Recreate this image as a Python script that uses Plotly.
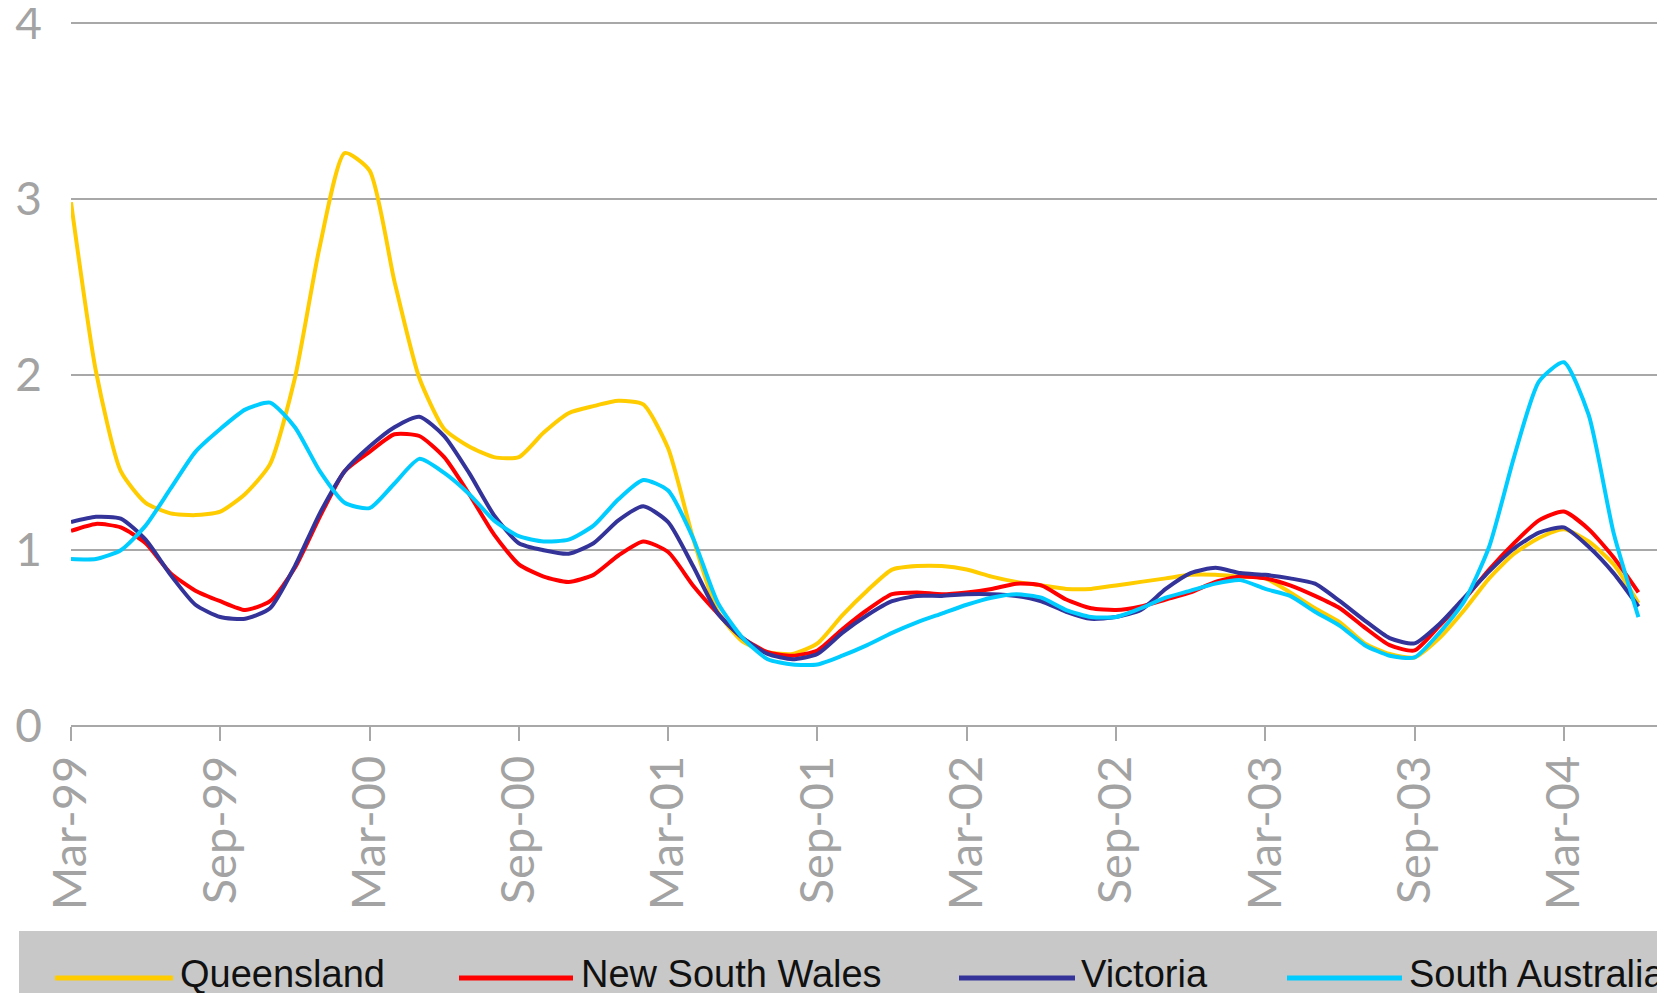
import pandas as pd
import plotly.graph_objects as go

months = list(pd.date_range("1999-03-01", periods=64, freq="MS").strftime("%b-%y"))
tick_labels = ["Mar-99", "Sep-99", "Mar-00", "Sep-00", "Mar-01", "Sep-01",
               "Mar-02", "Sep-02", "Mar-03", "Sep-03", "Mar-04"]
series_names = ["Queensland", "New South Wales", "Victoria", "South Australia"]
series_colors = ["#FFCC00", "#FF0000", "#333399", "#00CCFF"]

queensland = [2.98, 2.02, 1.45, 1.27, 1.21, 1.20, 1.22, 1.32, 1.49, 1.98,
              2.73, 3.26, 3.16, 2.53, 1.98, 1.69, 1.59, 1.53, 1.53, 1.67,
              1.78, 1.82, 1.85, 1.83, 1.58, 1.07, 0.65, 0.48, 0.42, 0.41,
              0.47, 0.63, 0.77, 0.89, 0.91, 0.91, 0.89, 0.85, 0.82, 0.80,
              0.78, 0.78, 0.80, 0.82, 0.84, 0.86, 0.86, 0.85, 0.84, 0.76,
              0.67, 0.59, 0.47, 0.41, 0.39, 0.50, 0.66, 0.84, 0.98, 1.07,
              1.12, 1.05, 0.92, 0.70]
nsw = [1.11, 1.15, 1.13, 1.04, 0.87, 0.77, 0.71, 0.66, 0.71, 0.90,
       1.19, 1.45, 1.56, 1.66, 1.65, 1.53, 1.32, 1.09, 0.92, 0.85,
       0.82, 0.86, 0.97, 1.05, 0.99, 0.80, 0.64, 0.50, 0.42, 0.40,
       0.43, 0.55, 0.66, 0.75, 0.76, 0.75, 0.76, 0.78, 0.81, 0.80,
       0.72, 0.67, 0.66, 0.68, 0.72, 0.76, 0.82, 0.85, 0.84, 0.80,
       0.74, 0.67, 0.56, 0.46, 0.43, 0.57, 0.72, 0.89, 1.04, 1.17,
       1.22, 1.12, 0.96, 0.76]
victoria = [1.16, 1.19, 1.18, 1.06, 0.86, 0.69, 0.62, 0.61, 0.67, 0.91,
            1.21, 1.45, 1.59, 1.70, 1.76, 1.65, 1.44, 1.20, 1.04, 1.00,
            0.98, 1.04, 1.17, 1.25, 1.16, 0.91, 0.64, 0.50, 0.41, 0.38,
            0.41, 0.53, 0.63, 0.71, 0.74, 0.74, 0.75, 0.75, 0.74, 0.71,
            0.65, 0.61, 0.62, 0.66, 0.78, 0.87, 0.90, 0.87, 0.86, 0.84,
            0.81, 0.71, 0.60, 0.50, 0.47, 0.58, 0.73, 0.88, 1.01, 1.10,
            1.13, 1.02, 0.87, 0.68]
south_australia = [0.95, 0.95, 1.00, 1.14, 1.35, 1.56, 1.69, 1.80, 1.84, 1.70,
                   1.45, 1.27, 1.24, 1.38, 1.52, 1.44, 1.32, 1.17, 1.08, 1.05,
                   1.06, 1.14, 1.29, 1.40, 1.34, 1.07, 0.70, 0.50, 0.38, 0.35,
                   0.35, 0.40, 0.46, 0.53, 0.59, 0.64, 0.69, 0.73, 0.75, 0.73,
                   0.66, 0.62, 0.62, 0.67, 0.73, 0.77, 0.81, 0.83, 0.78, 0.74,
                   0.65, 0.57, 0.46, 0.40, 0.39, 0.53, 0.71, 1.02, 1.53, 1.96,
                   2.07, 1.77, 1.10, 0.62]
y_ticks = [0, 1, 2, 3, 4]

OFF = 8  # browser body margin
W, H = 1665 - OFF, 993 - OFF
L, R, T, B = 71 - OFF, 0, 0, 267
PW, PH = W - L - R, H - T - B
UNIT = (726 - 23) / 4.0  # pixels per y unit
YMAX = PH / UNIT


def px(x):
    return (x - OFF - L) / PW


def py(y):
    return (H - B - (y - OFF)) / PH


GRAY = "#A8A8A8"
LABEL = "#A3A3A3"

fig = go.Figure()
for name, vals, col in zip(series_names, [queensland, nsw, victoria, south_australia], series_colors):
    fig.add_trace(go.Scatter(x=months, y=vals, name=name, mode="lines",
                             line=dict(color=col, width=4, shape="spline", smoothing=0.6),
                             showlegend=False))

shapes = [dict(type="rect", xref="paper", yref="paper", x0=px(19), x1=px(1700),
               y0=py(931), y1=py(1010), fillcolor="#C8C8C8", line=dict(width=0), layer="below")]
annotations = []
legend_pos = [(55, 173, 178), (459, 573, 579), (959, 1075, 1079), (1287, 1402, 1407)]
for (x0, x1, tx), name, col in zip(legend_pos, series_names, series_colors):
    shapes.append(dict(type="line", xref="paper", yref="paper", x0=px(x0), x1=px(x1),
                       y0=py(978), y1=py(978), line=dict(color=col, width=5)))
    annotations.append(dict(xref="paper", yref="paper", x=px(tx), y=py(974), text=name,
                            showarrow=False, xanchor="left", yanchor="middle",
                            font=dict(family="Liberation Sans, Arial", size=38, color="#111111")))

fig.update_layout(
    width=W, height=H,
    margin=dict(l=L, r=R, t=T, b=B, autoexpand=False),
    paper_bgcolor="white", plot_bgcolor="white",
    shapes=shapes, annotations=annotations,
    showlegend=False,
    xaxis=dict(type="category", range=[0, (1665 - 71) / 24.88], tickmode="array",
               tickvals=tick_labels, ticktext=tick_labels, tickangle=-90,
               ticks="outside", ticklen=14, tickwidth=2, tickcolor=GRAY,
               showgrid=False, showline=False, zeroline=False,
               tickfont=dict(family="Lato", size=47, color=LABEL),
               ticklabelstandoff=-4),
    yaxis=dict(range=[0, YMAX], tickvals=y_ticks, showgrid=True, gridcolor=GRAY, gridwidth=2,
               zeroline=True, zerolinecolor=GRAY, zerolinewidth=2, showline=False,
               ticks="", tickfont=dict(family="Lato", size=46, color=LABEL),
               ticklabelstandoff=28, ticklabeloverflow="allow"),
)

fig.write_html("out.html")
